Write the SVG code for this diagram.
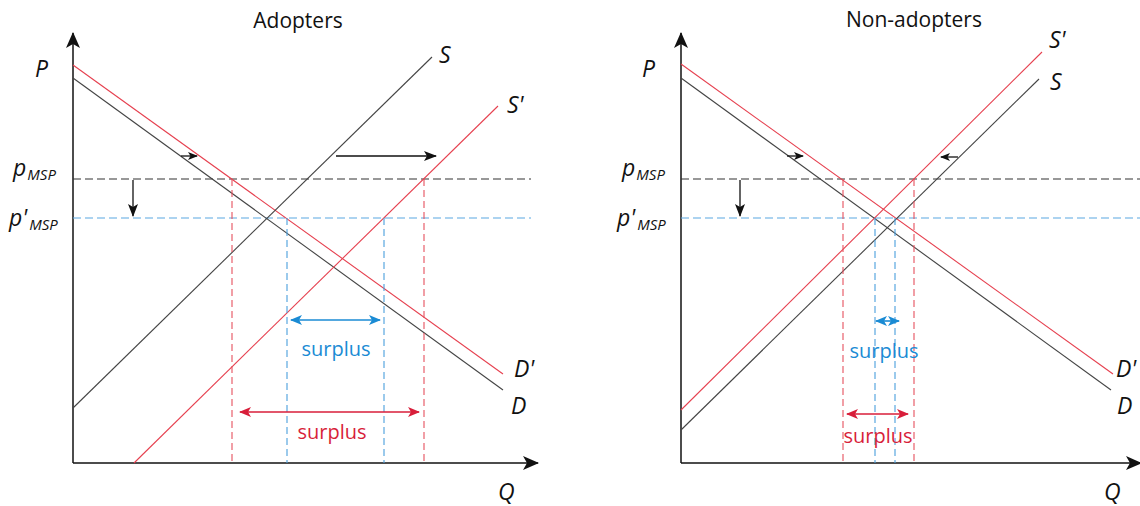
<svg xmlns="http://www.w3.org/2000/svg" width="1140" height="506" viewBox="0 0 1140 506">
<defs>
<style>
.bg{fill:#fff}
.axis{stroke:#111;stroke-width:1.5;fill:none}
.blk{stroke:#444;stroke-width:1.1;fill:none}
.red{stroke:#e6404f;stroke-width:1.1;fill:none}
.hd{stroke:#333;stroke-width:1.1;stroke-dasharray:8 4;fill:none}
.hb{stroke:#5aa8e2;stroke-width:1.1;stroke-dasharray:8 4;fill:none}
.vr{stroke:#e6505e;stroke-width:1.1;stroke-dasharray:7 4;fill:none}
.vb{stroke:#4a9fdc;stroke-width:1.1;stroke-dasharray:7 4;fill:none}
.shift{stroke:#111;stroke-width:1.3;fill:none}
.ab{stroke:#1a8bd4;stroke-width:1.6;fill:none}
.ar{stroke:#d81e3a;stroke-width:1.6;fill:none}
.lbl{font-family:"Open Sans","Liberation Sans",sans-serif;font-style:italic;font-size:23px;fill:#111}
.sub{font-size:15px}
.title{font-family:"Open Sans","Liberation Sans",sans-serif;font-size:21px;fill:#111;text-anchor:middle}
.sb{font-family:"Open Sans","Liberation Sans",sans-serif;font-size:20px;fill:#1a8bd4;text-anchor:middle}
.sr{font-family:"Open Sans","Liberation Sans",sans-serif;font-size:20px;fill:#d81e3a;text-anchor:middle}
</style>
<marker id="axisHead" viewBox="0 0 16 14" refX="15" refY="7" markerWidth="16" markerHeight="14" markerUnits="userSpaceOnUse" orient="auto">
<path d="M0,0 L16,7 L0,14 L4,7 Z" fill="#111"/>
</marker>
<marker id="blkHead" viewBox="0 0 13 10" refX="12" refY="5" markerWidth="13" markerHeight="10" markerUnits="userSpaceOnUse" orient="auto">
<path d="M0,0 L13,5 L0,10 L3,5 Z" fill="#111"/>
</marker>
<marker id="smallHead" viewBox="0 0 10 8" refX="9" refY="4" markerWidth="10" markerHeight="8" markerUnits="userSpaceOnUse" orient="auto">
<path d="M0,0 L10,4 L0,8 L2.5,4 Z" fill="#111"/>
</marker>
<marker id="blueHead" viewBox="0 0 12 10" refX="11" refY="5" markerWidth="12" markerHeight="10" markerUnits="userSpaceOnUse" orient="auto-start-reverse">
<path d="M0,0 L12,5 L0,10 L3,5 Z" fill="#1a8bd4"/>
</marker>
<marker id="redHead" viewBox="0 0 12 10" refX="11" refY="5" markerWidth="12" markerHeight="10" markerUnits="userSpaceOnUse" orient="auto-start-reverse">
<path d="M0,0 L12,5 L0,10 L3,5 Z" fill="#d81e3a"/>
</marker>
</defs>
<rect class="bg" x="0" y="0" width="1140" height="506"/>

<!-- LEFT PANEL: Adopters -->
<g id="adopters">
<text class="title" x="298" y="28">Adopters</text>
<g id="adopters-axes">
<line class="axis" x1="73" y1="463" x2="73" y2="33" marker-end="url(#axisHead)"/>
<line class="axis" x1="73" y1="463" x2="538" y2="463" marker-end="url(#axisHead)"/>
</g>
<g id="adopters-labels">
<text class="lbl" x="35" y="77">P</text>
<text class="lbl" x="13" y="176">p<tspan class="sub" dx="1" dy="4">MSP</tspan></text>
<text class="lbl" x="9" y="226">p'<tspan class="sub" dx="2" dy="4">MSP</tspan></text>
<text class="lbl" x="439" y="63">S</text>
<text class="lbl" x="507" y="113">S'</text>
<text class="lbl" x="514" y="377">D'</text>
<text class="lbl" x="511" y="414">D</text>
<text class="lbl" x="498" y="500">Q</text>
</g>
</g>

<!-- RIGHT PANEL: Non-adopters -->
<g id="non-adopters">
<text class="title" x="914" y="27">Non-adopters</text>
<g id="non-adopters-axes">
<line class="axis" x1="681" y1="463" x2="681" y2="33" marker-end="url(#axisHead)"/>
<line class="axis" x1="681" y1="463" x2="1141" y2="463" marker-end="url(#axisHead)"/>
</g>
<g id="non-adopters-labels">
<text class="lbl" x="642" y="77">P</text>
<text class="lbl" x="622" y="176">p<tspan class="sub" dx="1" dy="4">MSP</tspan></text>
<text class="lbl" x="617" y="226">p'<tspan class="sub" dx="2" dy="4">MSP</tspan></text>
<text class="lbl" x="1049" y="48">S'</text>
<text class="lbl" x="1050" y="90">S</text>
<text class="lbl" x="1116" y="377">D'</text>
<text class="lbl" x="1117" y="414">D</text>
<text class="lbl" x="1104" y="500">Q</text>
</g>
</g>

<g id="connectors">
<!-- left: price lines -->
<line class="hd" x1="73" y1="179" x2="531" y2="179"/>
<line class="hb" x1="73" y1="218" x2="531" y2="218"/>
<!-- left: curves -->
<line class="blk" x1="73" y1="78" x2="503" y2="390"/>
<line class="red" x1="73" y1="65" x2="503" y2="374"/>
<line class="blk" x1="73" y1="408" x2="432" y2="57"/>
<line class="red" x1="134" y1="463" x2="498" y2="106"/>
<!-- left: verticals -->
<line class="vr" x1="232" y1="179" x2="232" y2="463"/>
<line class="vb" x1="287" y1="218" x2="287" y2="463"/>
<line class="vb" x1="384" y1="218" x2="384" y2="463"/>
<line class="vr" x1="424" y1="179" x2="424" y2="463"/>
<!-- left: shift arrows -->
<line class="shift" x1="133" y1="180" x2="133" y2="216" marker-end="url(#blkHead)"/>
<line class="shift" x1="336" y1="156" x2="436" y2="156" marker-end="url(#blkHead)"/>
<line class="shift" x1="181" y1="156" x2="197" y2="156" marker-end="url(#smallHead)"/>
<!-- left: surplus -->
<line class="ab" x1="291" y1="320" x2="380" y2="320" marker-start="url(#blueHead)" marker-end="url(#blueHead)"/>
<text class="sb" x="336" y="356">surplus</text>
<line class="ar" x1="240" y1="412" x2="419" y2="412" marker-start="url(#redHead)" marker-end="url(#redHead)"/>
<text class="sr" x="332" y="439">surplus</text>

<!-- right: price lines -->
<line class="hd" x1="681" y1="179" x2="1140" y2="179"/>
<line class="hb" x1="681" y1="218" x2="1140" y2="218"/>
<!-- right: curves -->
<line class="blk" x1="681" y1="78" x2="1111" y2="390"/>
<line class="red" x1="681" y1="64" x2="1113" y2="374"/>
<line class="blk" x1="681" y1="430" x2="1039" y2="79"/>
<line class="red" x1="681" y1="410" x2="1042" y2="52"/>
<!-- right: verticals -->
<line class="vr" x1="843" y1="179" x2="843" y2="463"/>
<line class="vb" x1="875" y1="218" x2="875" y2="463"/>
<line class="vb" x1="895" y1="218" x2="895" y2="463"/>
<line class="vr" x1="914" y1="179" x2="914" y2="463"/>
<!-- right: shift arrows -->
<line class="shift" x1="740" y1="180" x2="740" y2="216" marker-end="url(#blkHead)"/>
<line class="shift" x1="787" y1="156" x2="803" y2="156" marker-end="url(#smallHead)"/>
<line class="shift" x1="958" y1="157" x2="941" y2="157" marker-end="url(#smallHead)"/>
<!-- right: surplus -->
<line class="ab" x1="876" y1="321" x2="899" y2="321" marker-start="url(#blueHead)" marker-end="url(#blueHead)"/>
<text class="sb" x="884" y="358">surplus</text>
<line class="ar" x1="847" y1="414" x2="908" y2="414" marker-start="url(#redHead)" marker-end="url(#redHead)"/>
<text class="sr" x="878" y="443">surplus</text>
</g>
</svg>
